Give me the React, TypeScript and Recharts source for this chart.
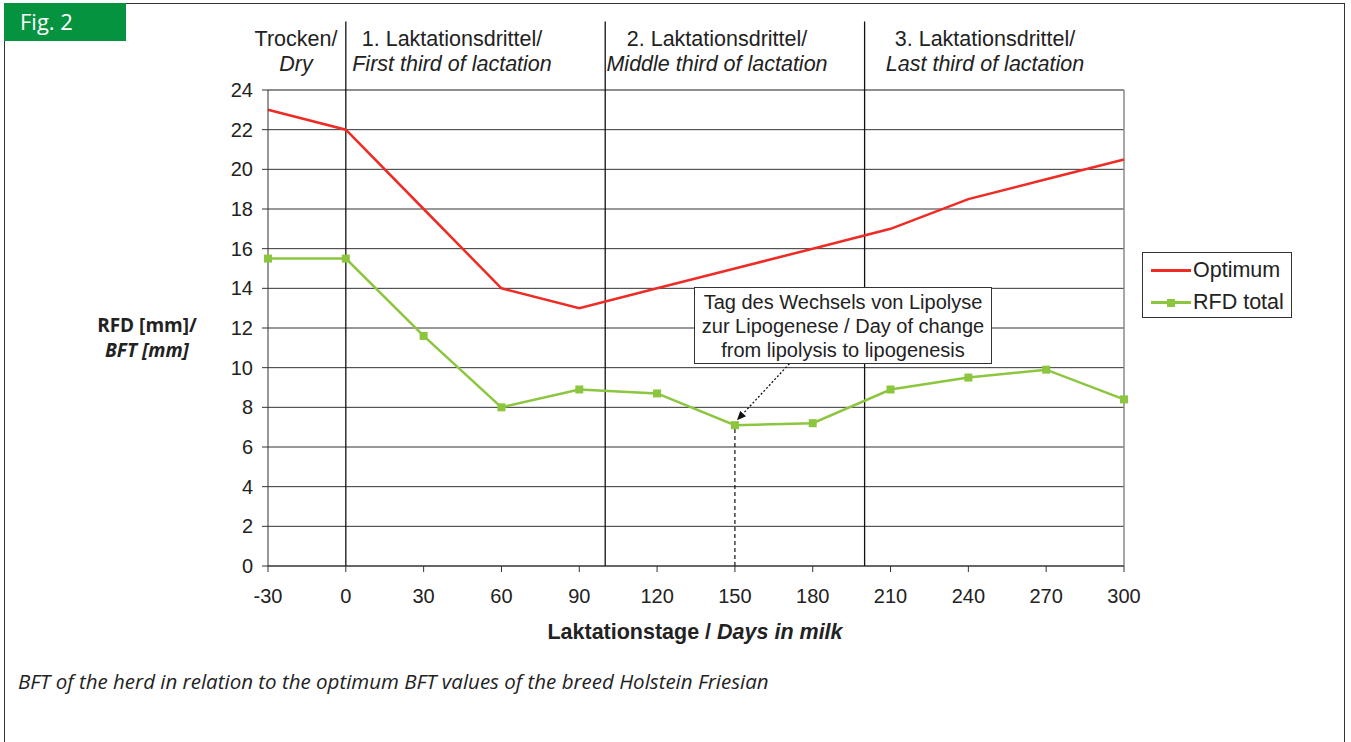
import {
  LineChart,
  Line,
  XAxis,
  YAxis,
  CartesianGrid,
  ReferenceLine,
} from "recharts";

const days = [-30, 0, 30, 60, 90, 120, 150, 180, 210, 240, 270, 300];
const optimum = [23, 22, 18, 14, 13, 14, 15, 16, 17, 18.5, 19.5, 20.5];
const rfdTotal = [15.5, 15.5, 11.6, 8.0, 8.9, 8.7, 7.1, 7.2, 8.9, 9.5, 9.9, 8.4];
const yTicks = [0, 2, 4, 6, 8, 10, 12, 14, 16, 18, 20, 22, 24];
const sectionBounds = [0, 100, 200];
const sectionTitles = [
  { de: "Trocken/", en: "Dry", center: 296 },
  { de: "1. Laktationsdrittel/", en: "First third of lactation", center: 452 },
  { de: "2. Laktationsdrittel/", en: "Middle third of lactation", center: 717 },
  { de: "3. Laktationsdrittel/", en: "Last third of lactation", center: 985 },
];
const changeDay = 150;
const changeValue = 7.1;
const noteLines = [
  "Tag des Wechsels von Lipolyse",
  "zur Lipogenese / Day of change",
  "from lipolysis to lipogenesis",
];

const data = days.map((d, i) => ({ day: d, optimum: optimum[i], rfd: rfdTotal[i] }));

const RED = "#ee2b24";
const GREEN = "#8cc63e";
const FONT = "'Liberation Sans', Arial, sans-serif";

function SquareDot(props: any) {
  const { cx, cy } = props;
  if (cx == null || cy == null) return null;
  return <rect x={cx - 4} y={cy - 4} width={8} height={8} fill={GREEN} />;
}

function ArrowShape(props: any) {
  const { x1, y1, x2, y2 } = props;
  const ang = Math.atan2(y2 - y1, x2 - x1);
  const len = 9;
  const w = 4;
  const bx = x2 - len * Math.cos(ang);
  const by = y2 - len * Math.sin(ang);
  const px = -Math.sin(ang) * w;
  const py = Math.cos(ang) * w;
  return (
    <g>
      <line x1={x1} y1={y1} x2={bx} y2={by} stroke="#111" strokeWidth={1.3} strokeDasharray="2 2" />
      <polygon points={`${x2},${y2} ${bx + px},${by + py} ${bx - px},${by - py}`} fill="#111" />
    </g>
  );
}

export default function App() {
  return (
    <div
      style={{
        position: "absolute",
        left: 0,
        top: 0,
        width: 1351,
        height: 742,
        background: "#fff",
        fontFamily: FONT,
        color: "#222",
        overflow: "hidden",
      }}
    >
      {/* frame */}
      <div
        style={{
          position: "absolute",
          left: 4,
          top: 3,
          width: 1339,
          height: 760,
          border: "1.5px solid #333",
        }}
      />
      <div
        style={{
          position: "absolute",
          left: 4,
          top: 3,
          width: 122,
          height: 38,
          background: "#06933f",
          color: "#fff",
          fontFamily: "'Open Sans', sans-serif",
          fontSize: 22,
          lineHeight: "36px",
          paddingLeft: 16,
          boxSizing: "border-box",
        }}
      >
        Fig. 2
      </div>

      <div style={{ position: "absolute", left: 0, top: 0 }}>
        <LineChart
          width={1351}
          height={742}
          data={data}
          margin={{ top: 90, right: 227, bottom: 146, left: 208 }}
        >
          <CartesianGrid vertical={false} stroke="#333" strokeWidth={1} />
          <XAxis
            dataKey="day"
            type="number"
            domain={[-30, 300]}
            ticks={days}
            height={30}
            axisLine={{ stroke: "#333" }}
            tickLine={{ stroke: "#333" }}
            tickSize={6}
            tickMargin={17}
            tick={{ fill: "#222", fontSize: 20, fontFamily: FONT }}
          />
          <YAxis
            type="number"
            domain={[0, 24]}
            ticks={yTicks}
            width={60}
            axisLine={{ stroke: "#333" }}
            tickLine={{ stroke: "#333" }}
            tickSize={6}
            tickMargin={9}
            tick={{ fill: "#222", fontSize: 20, fontFamily: FONT }}
          />
          <ReferenceLine y={24} stroke="#8a8a8a" strokeWidth={1.5} />
          <ReferenceLine x={300} stroke="#8a8a8a" strokeWidth={1.5} />
          {sectionBounds.map((b) => (
            <ReferenceLine
              key={b}
              segment={[
                { x: b, y: 0 },
                { x: b, y: 27.45 },
              ]}
              ifOverflow="visible"
              stroke="#111"
              strokeWidth={1.3}
            />
          ))}
          <ReferenceLine
            segment={[
              { x: changeDay, y: 0 },
              { x: changeDay, y: changeValue },
            ]}
            stroke="#111"
            strokeWidth={1.2}
            strokeDasharray="4 3"
          />
          <ReferenceLine
            segment={[
              { x: 171, y: 10.2 },
              { x: changeDay + 0.8, y: changeValue + 0.25 },
            ]}
            ifOverflow="visible"
            shape={ArrowShape}
          />
          <Line
            dataKey="optimum"
            stroke={RED}
            strokeWidth={2.5}
            dot={false}
            isAnimationActive={false}
          />
          <Line
            dataKey="rfd"
            stroke={GREEN}
            strokeWidth={2.5}
            dot={<SquareDot />}
            isAnimationActive={false}
          />
        </LineChart>
      </div>

      {/* section titles */}
      {sectionTitles.map((s) => (
        <div
          key={s.de}
          style={{
            position: "absolute",
            left: s.center - 150,
            width: 300,
            top: 27,
            textAlign: "center",
            fontSize: 21.5,
            lineHeight: "25px",
          }}
        >
          <div>{s.de}</div>
          <div style={{ fontStyle: "italic" }}>{s.en}</div>
        </div>
      ))}

      {/* y-axis title */}
      <div
        style={{
          position: "absolute",
          left: 77,
          width: 140,
          top: 313,
          textAlign: "center",
          fontFamily: "'Open Sans', sans-serif",
          fontWeight: 700,
          fontSize: 19,
          lineHeight: "25px",
        }}
      >
        <div>RFD [mm]/</div>
        <div style={{ fontStyle: "italic" }}>BFT [mm]</div>
      </div>

      {/* x-axis title */}
      <div
        style={{
          position: "absolute",
          left: 445,
          width: 500,
          top: 620,
          textAlign: "center",
          fontWeight: 700,
          fontSize: 21.5,
        }}
      >
        Laktationstage / <span style={{ fontStyle: "italic" }}>Days in milk</span>
      </div>

      {/* note box */}
      <div
        style={{
          position: "absolute",
          left: 694,
          top: 287,
          width: 298,
          height: 77,
          boxSizing: "border-box",
          border: "1.5px solid #333",
          background: "#fff",
          textAlign: "center",
          fontSize: 20,
          lineHeight: "24px",
          paddingTop: 2,
          whiteSpace: "nowrap",
        }}
      >
        {noteLines.map((l) => (
          <div key={l}>{l}</div>
        ))}
      </div>

      {/* legend */}
      <div
        style={{
          position: "absolute",
          left: 1142,
          top: 252,
          width: 150,
          height: 66,
          boxSizing: "border-box",
          border: "1.5px solid #333",
          fontSize: 21.5,
        }}
      >
        <div style={{ position: "absolute", left: 8, top: 16, width: 40, height: 3, background: RED }} />
        <div style={{ position: "absolute", left: 50, top: 5, lineHeight: "24px" }}>Optimum</div>
        <div style={{ position: "absolute", left: 8, top: 48, width: 40, height: 3, background: GREEN }} />
        <div style={{ position: "absolute", left: 24, top: 45.5, width: 8, height: 8, background: GREEN }} />
        <div style={{ position: "absolute", left: 50, top: 37, lineHeight: "24px" }}>RFD total</div>
      </div>

      {/* caption */}
      <div
        style={{
          position: "absolute",
          left: 18,
          top: 667,
          fontFamily: "'Open Sans', sans-serif",
          fontStyle: "italic",
          fontSize: 20.5,
          color: "#222",
        }}
      >
        BFT of the herd in relation to the optimum BFT values of the breed Holstein Friesian
      </div>
    </div>
  );
}
